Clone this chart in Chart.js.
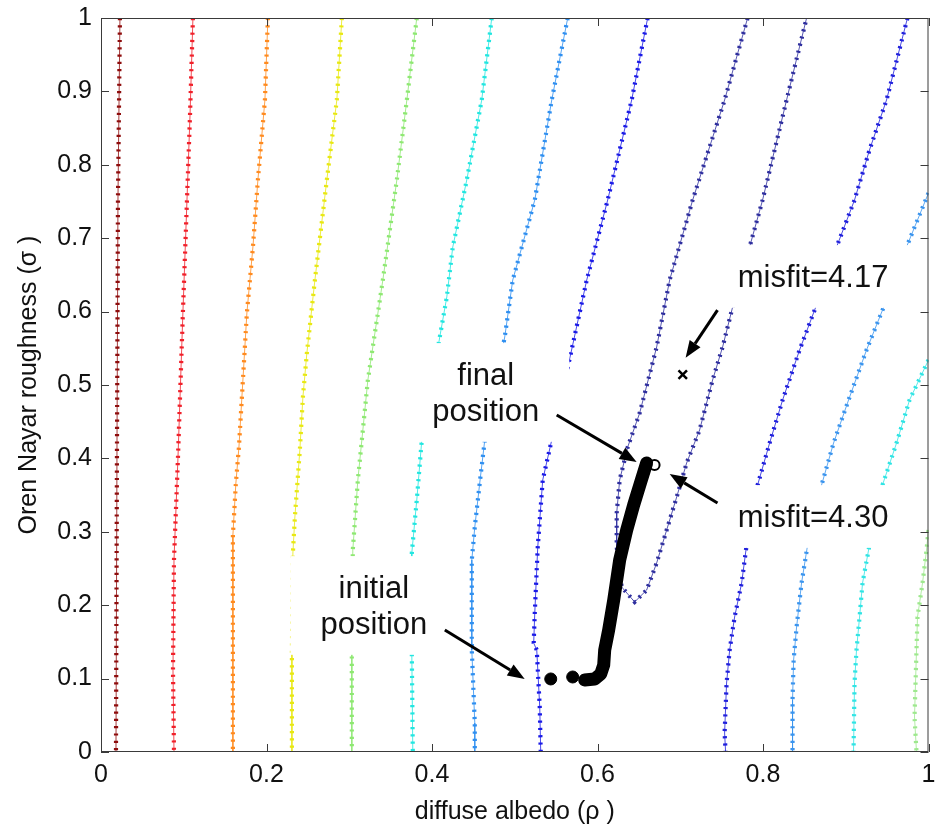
<!DOCTYPE html>
<html>
<head>
  <meta charset="utf-8">
  <title>Oren Nayar misfit contours</title>
  <script src="https://cdn.jsdelivr.net/npm/chart.js@4.4.0/dist/chart.umd.min.js"></script>
  <style>
    body { margin:0; background:#fff; }
    #chartCtn { width:937px; height:831px; }
  </style>
</head>
<body>
<div id="chartCtn"><canvas id="chartEl" width="937" height="831"></canvas></div>
<script>
  // contour traces, [diffuse albedo, roughness] pairs
  let darkRed = [[0.0229,1],[0.0205,0.752],[0.0193,0.4114],[0.0181,0]];
  let red = [[0.1111,1],[0.1075,0.8651],[0.1039,0.752],[0.0990,0.5995],[0.0930,0.4005],[0.0882,0.2616],[0.0870,0.1117],[0.0882,0]];
  let orange = [[0.2017,1],[0.1981,0.8883],[0.1896,0.7793],[0.1836,0.6880],[0.1763,0.5981],[0.1715,0.5068],[0.1667,0.4155],[0.1630,0.3665],[0.1594,0.2956],[0.1594,0]];
  let yellow = [[0.2911,1],[0.2850,0.8883],[0.2729,0.7793],[0.2585,0.6431],[0.2488,0.5436],[0.2440,0.4837],[0.2403,0.4114],[0.2343,0.3202],[0.2319,0.2711],[0.2307,0.1349],[0.2307,0]];
  let green = [[0.3816,1],[0.3696,0.8883],[0.3575,0.7793],[0.3406,0.6431],[0.3225,0.5068],[0.3104,0.3706],[0.3043,0.2752],[0.3031,0.1349],[0.3031,0]];
  let cyan = [[0.4722,1],[0.4601,0.8883],[0.4420,0.7793],[0.4251,0.6880],[0.4179,0.6199],[0.4094,0.5654],[0.3877,0.4251],[0.3816,0.3433],[0.3756,0.2711],[0.3756,0.1349],[0.3768,0]];
  let lightBlue = [[0.5640,1],[0.5447,0.8883],[0.5242,0.7520],[0.4976,0.6431],[0.4879,0.5654],[0.4638,0.4251],[0.4577,0.3665],[0.4517,0.3065],[0.4481,0.2616],[0.4481,0.1390],[0.4517,0.0395],[0.4517,0]];
  let blue = [[0.6606,1],[0.6413,0.8883],[0.6123,0.7520],[0.5870,0.6431],[0.5700,0.5545],[0.5447,0.4251],[0.5338,0.3706],[0.5278,0.2793],[0.5242,0.1894],[0.5229,0.1485],[0.5266,0.1390],[0.5302,0.0613],[0.5314,0]];
  let navyLoop = [[0.7814,1],[0.7536,0.8883],[0.7150,0.7520],[0.6872,0.6431],[0.6715,0.5518],[0.6510,0.4619],[0.6365,0.4155],[0.6268,0.3706],[0.6232,0.3256],[0.6232,0.2793],[0.6292,0.2248],[0.6449,0.2044],[0.6594,0.2207],[0.6715,0.2575],[0.6836,0.3025],[0.6957,0.3474],[0.7077,0.3937],[0.7234,0.4387],[0.7391,0.5068],[0.7512,0.5518],[0.7633,0.6063],[0.7838,0.6880],[0.7995,0.7520],[0.8140,0.8202],[0.8285,0.8883],[0.8527,1]];
  let blueRight = [[0.9746,1],[0.9493,0.8883],[0.9287,0.8202],[0.9106,0.7520],[0.8889,0.6880],[0.8647,0.6090],[0.8442,0.5477],[0.8237,0.4796],[0.8080,0.4210],[0.7935,0.3638],[0.7802,0.2820],[0.7742,0.2302],[0.7657,0.1839],[0.7597,0.1390],[0.7560,0.0940],[0.7536,0.0259],[0.7548,0]];
  let lightBlueRight = [[1.0,0.7616],[0.9734,0.6880],[0.9469,0.6090],[0.9251,0.5477],[0.9034,0.4796],[0.8853,0.4210],[0.8708,0.3638],[0.8539,0.2820],[0.8466,0.2302],[0.8406,0.1703],[0.8370,0.1253],[0.8357,0.0708],[0.8357,0]];
  let cyanRight = [[1.0,0.5341],[0.9771,0.4796],[0.9614,0.4210],[0.9444,0.3638],[0.9287,0.2820],[0.9203,0.2302],[0.9167,0.1839],[0.9130,0.1390],[0.9106,0.0940],[0.9094,0]];
  let greenRight = [[1.0,0.3025],[0.9976,0.2752],[0.9928,0.2302],[0.9867,0.1839],[0.9855,0.1390],[0.9831,0.0477],[0.9855,0]];

  // optimiser path
  let trajectory = [[0.5845,0.0981],[0.5966,0.0995],[0.6039,0.1063],[0.6075,0.1185],[0.6087,0.1390],[0.6135,0.1662],[0.6196,0.2071],[0.6268,0.2616],[0.6353,0.3025],[0.6437,0.3365],[0.6522,0.3678],[0.6594,0.3937]];
  let startDots = [[0.5435,0.0995],[0.5700,0.1022]];
  let finalPoint = [[0.669,0.391]];
  let bestPoint = [[0.703,0.514]];

  let xTickValues = [0, 0.2, 0.4, 0.6, 0.8, 1];
  let yTickValues = [0, 0.1, 0.2, 0.3, 0.4, 0.5, 0.6, 0.7, 0.8, 0.9, 1];

  const FONT = '"Liberation Sans", Arial, Helvetica, sans-serif';

  let contourStyles = [
    [darkRed, '#8e0c0c'],
    [red, '#f0202a'],
    [orange, '#ff8a1e'],
    [yellow, '#e8e812'],
    [green, '#8ee872'],
    [cyan, '#22e6e0'],
    [lightBlue, '#2f8ff0'],
    [blue, '#1a1ae6'],
    [navyLoop, '#2e2e9e'],
    [blueRight, '#2020dc'],
    [lightBlueRight, '#3a94ee'],
    [cyanRight, '#30e4e4'],
    [greenRight, '#9ee88e'],
  ];

  // text boxes (x = centre, y = first baseline, in data units) and arrows
  let notes = [
    {lines: ['misfit=4.17'], x: 0.8605, y: 0.6335},
    {lines: ['misfit=4.30'], x: 0.8605, y: 0.3065},
    {lines: ['final', 'position'], x: 0.465, y: 0.500},
    {lines: ['initial', 'position'], x: 0.3297, y: 0.2098},
  ];
  let arrows = [
    {from: [0.745, 0.602], to: [0.7065, 0.537]},
    {from: [0.5507, 0.4591], to: [0.6473, 0.3951]},
    {from: [0.745, 0.3392], to: [0.6872, 0.3787]},
    {from: [0.4155, 0.1662], to: [0.512, 0.0995]},
  ];

  let toXY = arr => arr.map(p => ({x: p[0], y: p[1]}));

  let datasets = [
    {data: toXY(trajectory), showLine: true, borderColor: '#000', borderWidth: 13, borderCapStyle: 'round', borderJoinStyle: 'round', pointRadius: 0, order: 0},
    {data: toXY(startDots), showLine: false, pointRadius: 6, backgroundColor: '#000', borderColor: '#000', order: 0},
    {data: toXY(finalPoint), showLine: false, pointRadius: 5, pointStyle: 'circle', backgroundColor: '#fff', borderColor: '#000', borderWidth: 2, order: 0},
    {data: toXY(bestPoint), showLine: false, pointRadius: 6, pointStyle: 'crossRot', borderColor: '#000', borderWidth: 2.5, order: 0},
  ];
  contourStyles.forEach(([pts, color]) => {
    datasets.push({data: toXY(pts), showLine: true, borderColor: color, borderWidth: 4.2, borderDash: [2.2, 5.1], pointRadius: 0, order: 10});
    datasets.push({data: toXY(pts), showLine: true, borderColor: color, borderWidth: 0.8, pointRadius: 0, order: 11});
  });

  function drawArrow(ctx, x1, y1, x2, y2) {
    let ang = Math.atan2(y2 - y1, x2 - x1);
    let len = 17, half = 6.5;
    let bx = x2 - len * Math.cos(ang), by = y2 - len * Math.sin(ang);
    ctx.beginPath();
    ctx.moveTo(x1, y1);
    ctx.lineTo(bx, by);
    ctx.stroke();
    ctx.beginPath();
    ctx.moveTo(x2, y2);
    ctx.lineTo(bx + half * Math.sin(ang), by - half * Math.cos(ang));
    ctx.lineTo(bx - half * Math.sin(ang), by + half * Math.cos(ang));
    ctx.closePath();
    ctx.fill();
  }

  const notesPlugin = {
    id: 'notes',
    afterDatasetsDraw(chart) {
      let {ctx, scales: {x, y}} = chart;
      let fs = 31, lh = 36;
      ctx.save();
      ctx.font = `${fs}px ${FONT}`;
      for (let n of notes) {
        let cx = x.getPixelForValue(n.x), by = y.getPixelForValue(n.y);
        let w = Math.max(...n.lines.map(t => ctx.measureText(t).width));
        let top = by - fs * 0.9 - 14;
        let bottom = by + (n.lines.length - 1) * lh + fs * 0.22 + 14;
        ctx.fillStyle = '#fff';
        ctx.fillRect(cx - w / 2 - 30, top, w + 60, bottom - top);
        ctx.fillStyle = '#111';
        ctx.textAlign = 'center';
        ctx.textBaseline = 'alphabetic';
        n.lines.forEach((t, i) => ctx.fillText(t, cx, by + i * lh));
      }
      ctx.strokeStyle = '#000';
      ctx.fillStyle = '#000';
      ctx.lineWidth = 3;
      for (let a of arrows) {
        drawArrow(ctx, x.getPixelForValue(a.from[0]), y.getPixelForValue(a.from[1]),
                       x.getPixelForValue(a.to[0]), y.getPixelForValue(a.to[1]));
      }
      ctx.restore();
    }
  };

  // MATLAB style box with inward ticks
  const framePlugin = {
    id: 'frame',
    afterDraw(chart) {
      let {ctx, chartArea: {left, right, top, bottom}, scales: {x, y}} = chart;
      ctx.save();
      ctx.strokeStyle = '#3a3a3a';
      ctx.lineWidth = 1;
      ctx.strokeRect(left + 0.5, top + 0.5, right - left - 1, bottom - top - 1);
      ctx.beginPath();
      for (let v of yTickValues) {
        let py = Math.round(y.getPixelForValue(v)) + 0.5;
        ctx.moveTo(left, py); ctx.lineTo(left + 8, py);
        ctx.moveTo(right, py); ctx.lineTo(right - 8, py);
      }
      for (let v of xTickValues) {
        let px = Math.round(x.getPixelForValue(v)) + 0.5;
        ctx.moveTo(px, bottom); ctx.lineTo(px, bottom - 8);
        ctx.moveTo(px, top); ctx.lineTo(px, top + 8);
      }
      ctx.stroke();
      ctx.restore();
    }
  };

  new Chart(chartEl, {
    type: 'scatter',
    data: {datasets},
    plugins: [notesPlugin, framePlugin],
    options: {
      responsive: false,
      devicePixelRatio: 1,
      animation: false,
      layout: {padding: {top: 18, right: 8, left: 0, bottom: 0}},
      plugins: {legend: {display: false}, tooltip: {enabled: false}},
      scales: {
        x: {
          type: 'linear', min: 0, max: 1,
          afterBuildTicks: s => { s.ticks = xTickValues.map(v => ({value: v})); },
          afterFit: s => { s.height = 79; s.paddingLeft = 0; s.paddingRight = 0; },
          grid: {display: false, drawTicks: false},
          border: {display: false},
          ticks: {padding: 8, color: '#111', font: {family: FONT, size: 25}, maxRotation: 0, autoSkip: false, callback: v => String(v)},
          title: {display: true, text: 'diffuse albedo (ρ )', color: '#111', font: {family: FONT, size: 25}, padding: {top: 0, bottom: 4}}
        },
        y: {
          type: 'linear', min: 0, max: 1,
          afterBuildTicks: s => { s.ticks = yTickValues.map(v => ({value: v})); },
          afterFit: s => { s.width = 101; s.paddingTop = 0; s.paddingBottom = 0; },
          grid: {display: false, drawTicks: false},
          border: {display: false},
          ticks: {padding: 9, color: '#111', font: {family: FONT, size: 25}, autoSkip: false, callback: v => String(v)},
          title: {display: true, text: 'Oren Nayar roughness (σ )', color: '#111', font: {family: FONT, size: 25}, padding: {top: 14, bottom: 0}}
        }
      }
    }
  });
</script>
</body>
</html>
